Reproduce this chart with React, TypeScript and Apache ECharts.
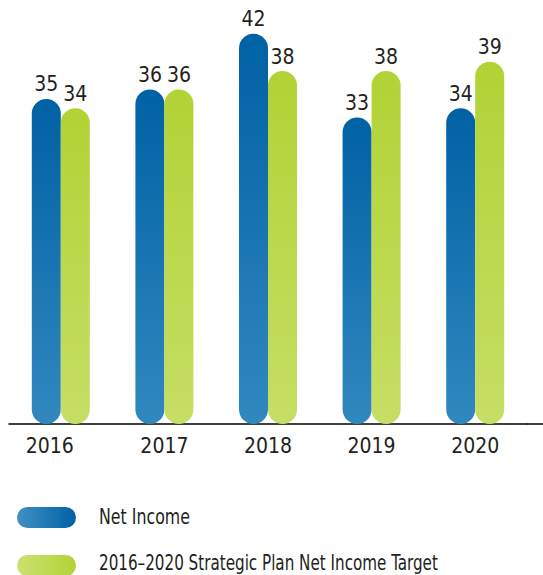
import React, { useEffect, useRef } from "react";
import * as echarts from "echarts";

const years = ["2016", "2017", "2018", "2019", "2020"];
const netIncome = [35, 36, 42, 33, 34];
const planTarget = [34, 36, 38, 38, 39];
const seriesNames = ["Net Income", "2016\u20132020 Strategic Plan Net Income Target"];

const FONT = "'Liberation Sans Narrow', 'DejaVu Sans Condensed', 'Noto Sans', sans-serif";
const TEXT = "#231f20";

function measure(text: string, size: number): number {
  const c = document.createElement("canvas").getContext("2d");
  if (!c) return 0;
  c.font = `${size}px ${FONT}`;
  return c.measureText(text).width;
}

export default function App() {
  const ref = useRef<HTMLDivElement>(null);
  useEffect(() => {
    document.body.style.margin = "0";
    const chart = echarts.init(ref.current!, null, { renderer: "svg" });
    const vgrad = (top: string, bottom: string) =>
      new echarts.graphic.LinearGradient(0, 0, 0, 1, [
        { offset: 0, color: top },
        { offset: 1, color: bottom },
      ]);
    const hgrad = (left: string, right: string) =>
      new echarts.graphic.LinearGradient(0, 0, 1, 0, [
        { offset: 0, color: left },
        { offset: 1, color: right },
      ]);
    const label = {
      show: true,
      position: "top",
      distance: 4,
      fontSize: 21,
      fontFamily: FONT,
      color: TEXT,
    };
    const legendTargets = [91, 339];
    const legendSize = 22;
    const legendScale = seriesNames.map((n, i) => {
      const w = measure(n, legendSize);
      return w > 0 ? legendTargets[i] / w : 1;
    });
    const legendTops = [507, 555];
    const legendTextY = [517, 563];
    const legendColors = [hgrad("#4190c4", "#0061a4"), hgrad("#cbe171", "#b2d235")];
    const legendGraphics: any[] = [];
    seriesNames.forEach((n, i) => {
      legendGraphics.push({
        type: "rect",
        shape: { x: 17, y: legendTops[i], width: 59, height: 21, r: 10.5 },
        style: { fill: legendColors[i] },
      });
      legendGraphics.push({
        type: "text",
        x: 99,
        y: legendTextY[i],
        scaleX: legendScale[i],
        style: {
          text: n,
          fontSize: legendSize,
          fontFamily: FONT,
          fill: TEXT,
          verticalAlign: "middle",
          align: "left",
        },
      });
    });
    chart.setOption({
      animation: false,
      grid: { left: 9, width: 518, top: 6, height: 418 },
      xAxis: {
        type: "category",
        data: years.map((y, i) =>
          i === 0 ? { value: y, textStyle: { padding: [0, 22, 0, 0] } } : y
        ),
        axisLine: { lineStyle: { color: "#000", width: 1.5 } },
        axisTick: { show: false },
        axisLabel: { fontSize: 21, fontFamily: FONT, color: TEXT, margin: 11 },
      },
      yAxis: { type: "value", min: 0, max: 45, show: false, splitLine: { show: false } },
      graphic: [
        {
          type: "line",
          shape: { x1: 527, y1: 424, x2: 543, y2: 424 },
          style: { stroke: "#000", lineWidth: 1.5 },
        },
        ...legendGraphics,
      ],
      series: [
        {
          name: seriesNames[0],
          type: "bar",
          data: netIncome,
          barWidth: 29,
          barGap: "0%",
          itemStyle: { color: vgrad("#0061a4", "#3188bf"), borderRadius: 14.5 },
          label,
        },
        {
          name: seriesNames[1],
          type: "bar",
          data: planTarget,
          barWidth: 29,
          itemStyle: { color: vgrad("#b2d235", "#c6de65"), borderRadius: 14.5 },
          label,
        },
      ],
    });
    return () => chart.dispose();
  }, []);
  return <div ref={ref} style={{ width: 543, height: 575 }} />;
}
